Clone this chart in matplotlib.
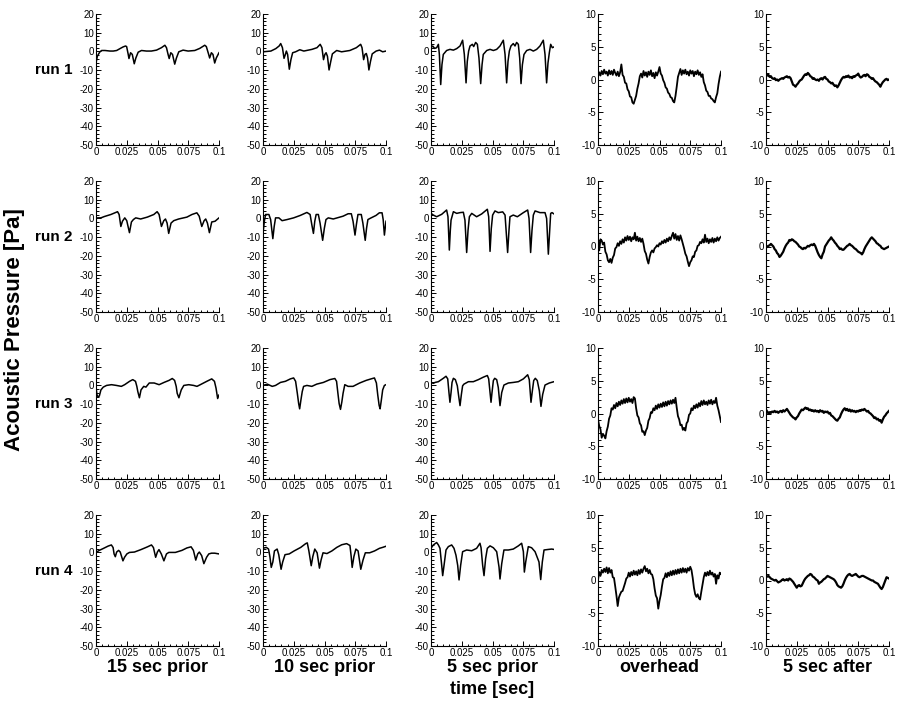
import numpy as np
import matplotlib
matplotlib.use('Agg')
import matplotlib.pyplot as plt
from matplotlib.ticker import MultipleLocator, FixedLocator, FixedFormatter

plt.rcParams['font.family'] = ['Liberation Sans', 'DejaVu Sans']
plt.rcParams['axes.unicode_minus'] = False

runs = ['run 1', 'run 2', 'run 3', 'run 4']
conditions = ['15 sec prior', '10 sec prior', '5 sec prior', 'overhead', '5 sec after']
x_ticks = [0, 0.025, 0.05, 0.075, 0.1]
x_tick_labels = ['0', '0.025', '0.05', '0.075', '0.1']
y_ticks_prior = [20, 10, 0, -10, -20, -30, -40, -50]
y_ticks_near = [10, 5, 0, -5, -10]

# ---- smooth panels: (time [ms], pressure [Pa]) ----
r1_15 = [(0,-6.2),(1.1,-2.6),(1.9,-1.6),(3.2,-0.2),(4.6,0.5),(7.3,0.5),(11.4,0.2),(14,0.2),(16.8,0.5),(19.5,1.5),
         (22,2.4),(24,2.9),(24.9,2.6),(26.2,-1.6),(26.8,-3.8),(28.1,-0.7),(29.5,-1.6),(31.1,-6.6),(32.4,-3.5),(34.3,-0.4),
         (37,0.5),(41,0.2),(45,0.2),(49.2,0.7),(53.2,2.0),(56,3.3),(57.3,2.0),(58.6,-1.6),(59.5,-3.8),(60.8,-0.7),
         (62.2,-1.6),(64,-6.8),(65.4,-3.5),(67.3,-0.2),(70.8,0.7),(74.9,0.2),(80.3,0.5),(84.3,1.6),(88.4,3.3),(89.7,2.6),
         (91.6,-1.6),(92.4,-3.5),(93.8,-0.7),(95.1,-1.6),(96.5,-6.2),(97.8,-3.5),(100,-0.7)]
r1_10 = [(0,-0.2),(6.4,0.2),(10.4,1.5),(13.1,2.9),(14.4,4.2),(15.8,2.0),(17.1,-3.7),(18.2,-1.6),(19,0.2),(20,-1.6),
         (21.4,-9.5),(22.7,-4.4),(24.1,-0.7),(26.5,-0.2),(29.9,0.9),(33.2,0.2),(39.8,1.1),(43.9,2.0),(46.5,3.8),(47.9,2.0),
         (49.2,-4.4),(50.3,-1.6),(51.3,-0.7),(52.4,-2.6),(53.7,-9.9),(55.1,-5.3),(56.4,-1.3),(59.9,0.5),(63.9,-0.2),(70.6,0.5),
         (75.9,2.0),(79.4,3.8),(80.5,2.0),(81.8,-4.4),(82.9,-1.6),(84,-1.1),(85,-3.5),(86.1,-9.9),(87.4,-5.3),(88.8,-1.3),
         (92,0.2),(94.7,0.7),(97.3,-0.2),(100,0.2)]
r1_5 = [(0,2.0),(1.4,2.9),(3,1.6),(4.6,2.0),(6,3.8),(6.8,-1.6),(7.9,-17.7),(8.9,-7.1),(10,-1.6),(12.7,0.5),
        (15.4,1.1),(18.2,0.7),(20.9,1.5),(23.6,2.9),(25.7,6.0),(27.1,-1.6),(28.5,-16.8),(29.5,-5.3),(30.6,0.2),(31.7,2.9),
        (33.6,3.8),(34.7,2.6),(36.3,4.8),(37.7,3.8),(39,-3.5),(40.4,-17.2),(41.5,-7.1),(42.5,-1.6),(45.3,0.5),(48,1.1),
        (50.7,0.5),(53.4,1.1),(56.1,2.9),(58.8,6.0),(60.2,-1.6),(61.5,-16.8),(62.6,-5.3),(63.7,0.2),(65,2.9),(66.9,4.2),
        (68.3,2.9),(69.6,4.8),(71,3.8),(72.1,-3.5),(73.2,-17.2),(74.3,-7.1),(75.6,-1.6),(77.8,0.5),(80.5,1.1),(83.2,0.2),
        (85.9,1.1),(88.6,2.9),(91.3,6.0),(92.7,-1.6),(94,-16.8),(95.1,-6.2),(96.2,-0.7),(97.3,3.8),(98.6,2.0),(100,2.4)]
r2_15 = [(0,-0.3),(1.3,0.3),(4,0.3),(6.7,1.0),(12.1,2.1),(16.1,3.2),(17.5,3.6),(18.8,2.1),(20.2,-4.3),(21.5,-1.5),
         (23.4,0.3),(25,-1.2),(27.2,-7.6),(28.8,-1.9),(30.4,-0.6),(32.3,0.3),(36.3,-0.3),(41.7,0.7),(47,2.1),(49.7,3.6),
         (51.3,2.1),(53.2,-4.3),(55.1,-1.2),(56.5,-0.3),(57.8,-2.5),(59.1,-8.0),(61,-2.5),(63.2,-1.2),(67.2,-0.3),(73.9,0.7),
         (78,2.1),(82,3.0),(83.9,1.2),(86,-4.3),(87.9,-1.2),(89.2,-0.3),(90.6,-2.5),(92.2,-7.6),(94.1,-1.9),(96.8,-1.5),(100,0.3)]
r2_10 = [(0,-8.0),(1.1,-1.5),(2.1,2.1),(4.8,2.1),(6.2,-0.6),(8,-10.8),(9.1,-4.3),(10.2,0.3),(12.9,0.3),(15.5,-1.2),
         (19.6,-0.6),(24.9,0.3),(30.3,1.6),(35.7,3.2),(38.3,2.1),(39.7,-3.4),(41,-8.0),(42.1,-1.5),(43.2,2.1),(45,2.1),
         (46.4,-2.5),(48.5,-11.7),(49.9,-5.2),(51.2,-0.6),(53.1,0.3),(57.1,-0.3),(65.1,1.2),(69.2,2.5),(71.8,2.5),(73.2,-1.5),
         (74.8,-8.9),(75.9,-3.4),(77.2,2.1),(79.9,2.1),(81.2,-2.5),(83.1,-11.7),(84.2,-5.2),(85.3,-0.6),(87.9,0.3),(91.9,1.6),
         (94.6,3.0),(96.8,3.0),(97.7,-0.6),(98.7,-8.9),(100,-1.5)]
r2_5 = [(0,2.7),(1.9,1.8),(4.6,0.9),(8.7,2.2),(12.7,4.5),(13.8,0.9),(14.9,-16.9),(15.7,-6.4),(16.3,-0.9),(18.2,3.6),
        (20.9,2.7),(23.6,3.1),(26.3,3.3),(27.6,-0.9),(29,-18.2),(30.1,-6.4),(31.2,0.9),(33.1,2.7),(37.1,0.9),(41.2,2.4),
        (45.8,4.9),(46.9,0.9),(48,-17.6),(49,-5.5),(50.1,1.8),(52,4.0),(54.7,3.1),(58.3,3.5),(60.2,1.8),(62.3,-18.2),
        (63.4,-6.4),(64.2,0.9),(66.9,1.8),(70.2,0.9),(75.1,3.1),(78.6,4.5),(79.7,0.0),(81,-18.2),(82.1,-6.4),(83.2,1.8),
        (84.6,4.0),(88.6,3.1),(92.7,3.1),(94,0.0),(95.4,-19.1),(96.5,-6.4),(97.3,2.7),(98.4,3.1),(100,2.4)]
r3_15 = [(0,-0.9),(0.8,-5.1),(1.6,-6.0),(2.7,-5.7),(4,-2.4),(5.9,-0.9),(8.6,0.0),(12.6,0.4),(16.6,0.0),(20.6,-0.5),
         (23.3,0.4),(27.3,2.2),(29.9,3.1),(32.1,2.2),(33.2,-0.5),(34,-3.3),(35.3,-6.6),(36.6,-2.4),(38.8,-0.5),(40.6,-0.9),
         (43.3,1.3),(47.3,1.3),(51.3,0.4),(55.3,1.6),(59.4,2.7),(62,3.7),(63.9,2.7),(65.2,-0.5),(66,-4.2),(67.4,-6.6),
         (69.3,-2.4),(71.4,0.0),(75.4,0.4),(79.4,0.0),(82.1,-0.5),(84.8,0.4),(90.1,2.2),(94.1,3.5),(96.3,2.2),(97.6,-1.5),
         (98.9,-7.0),(100,-5.1)]
r3_10 = [(0,0.0),(3.5,0.7),(7.5,-0.5),(10.2,0.0),(14.2,1.6),(18.2,2.2),(22.3,3.5),(24.9,4.0),(26.5,2.2),(27.9,-4.2),
         (29,-9.7),(29.8,-12.5),(30.8,-7.9),(31.9,-3.3),(33,-0.5),(35.7,0.0),(39.7,-0.5),(43.7,0.7),(49.1,1.6),(54.4,3.1),
         (58.4,3.7),(59.8,2.2),(60.9,-4.2),(61.9,-9.7),(63,-12.8),(64.1,-8.8),(65.1,-4.2),(66.5,0.4),(69.2,-0.5),(73.2,-0.5),
         (78.6,1.3),(83.9,2.7),(87.9,3.5),(90.6,4.0),(92.2,1.3),(93.3,-5.1),(94.4,-10.6),(95.2,-12.5),(96.2,-7.9),(97.3,-2.4),
         (98.7,0.0),(100,0.4)]
r3_5 = [(0,1.6),(1.9,1.1),(3.3,1.6),(6,2.0),(10,3.8),(12.2,4.9),(13.6,3.5),(14.6,-3.8),(15.4,-9.0),(16.3,-3.8),
        (17.1,1.6),(18.2,3.8),(19.8,3.1),(21.4,-0.2),(22.5,-5.7),(23.6,-10.8),(24.7,-4.8),(25.7,-0.2),(26.8,0.7),(30.4,2.0),
        (34.4,2.0),(38.5,3.1),(42.5,4.4),(45.8,5.3),(46.9,3.5),(48,-3.8),(48.8,-9.0),(49.6,-3.8),(50.7,2.6),(51.8,3.8),
        (53.4,3.1),(54.7,-1.1),(56.1,-10.8),(57.5,-3.8),(59.3,0.2),(62.9,1.3),(66.9,1.6),(71,2.0),(75.1,3.5),(78.6,5.7),
        (79.9,3.1),(81.3,-9.0),(82.4,-2.9),(83.5,2.6),(84.8,3.8),(86.4,2.6),(88.1,-2.9),(89.4,-11.2),(90.8,-4.8),(92.7,0.2),
        (96.2,1.3),(100,2.0)]
r4_15 = [(0,0.0),(2.7,1.1),(5.9,2.1),(9.9,3.4),(12.5,4.0),(13.9,2.6),(14.7,-0.8),(15.7,-2.3),(16.8,0.2),(18.4,1.1),
         (19.7,0.2),(21.9,-4.5),(23.2,-2.6),(25.1,-0.8),(27.2,0.0),(31.2,0.2),(36.5,1.5),(41.9,3.0),(45.1,4.0),(46.7,2.6),
         (48.5,-2.6),(49.9,0.2),(51.2,1.5),(53.1,-0.8),(55.2,-4.5),(57.3,-0.8),(59.2,0.0),(64.5,0.0),(69.9,1.1),(73.9,2.4),
         (77.3,3.0),(79.2,1.1),(81.1,-4.1),(82.7,-0.8),(84,0.2),(85.9,-1.7),(87.7,-6.0),(89.9,-2.6),(91.7,-0.8),(93.9,-0.4),
         (96.5,-0.4),(100,-0.8)]
r4_10 = [(0,2.2),(2.7,2.7),(4.5,1.8),(5.6,-2.2),(6.7,-8.0),(8,-5.1),(9.3,0.8),(11.5,1.8),(12.8,-1.2),(14.7,-9.0),
         (16,-5.1),(17.9,-1.2),(21.3,-0.8),(25.3,0.8),(30.7,2.7),(34.7,4.7),(36,5.1),(37.3,0.8),(39.2,-7.1),(40.5,-2.2),
         (42.1,1.8),(44,-0.2),(45.9,-8.4),(47.2,-4.1),(48.8,-0.2),(52,-0.6),(56,0.8),(60,2.7),(64,4.1),(68,4.7),
         (70.7,3.7),(71.7,-2.2),(72.5,-8.0),(73.9,-2.2),(75.5,1.8),(77.3,0.8),(79.5,-9.0),(81.3,-4.1),(83.2,-0.2),(86.7,-0.2),
         (90.7,0.8),(94.7,2.2),(97.3,2.7),(100,3.3)]
r4_5 = [(0,2.2),(1.9,4.0),(4.6,5.3),(6,4.0),(7.3,2.2),(8.7,-6.9),(9.5,-12.4),(10.6,-6.9),(12.2,1.3),(14.1,3.1),
        (16.8,4.0),(18.7,2.2),(20.3,-1.5),(21.7,-6.9),(22.8,-14.7),(24.1,-6.9),(25.7,0.4),(29,1.3),(33.1,0.9),(37.1,2.2),
        (39.8,4.9),(40.7,2.5),(42,-6.9),(43.1,-12.4),(44.4,-3.3),(45.8,2.2),(48,3.5),(50.7,2.5),(53.4,0.4),(55.3,-7.8),
        (56.1,-14.2),(57.5,-6.0),(59.3,1.3),(62.9,1.3),(66.9,1.8),(71,3.5),(73.7,4.9),(75.1,0.4),(75.9,-10.5),(77,-5.1),
        (79.1,3.1),(81.8,2.5),(84.6,0.4),(87.8,-5.1),(89.2,-14.5),(90.5,-5.1),(91.9,1.3),(95.4,1.6),(98.1,1.8),(100,1.6)]

# ---- noisy panels: one value per millisecond, 0 ... 100 ms ----
r1_over = [0.4, 1.1, 0.6, 1.3, 0.8, 1.5, 0.9, 1.2, 0.6, 1.4,
           0.8, 1.3, 0.7, 1.5, 1.0, 0.6, 1.2, 0.5, 1.1, 2.3,
           0.7, 0.4, -0.5, -0.6, -1.5, -1.8, -2.6, -2.7, -3.5, -3.7,
           -3.1, -2.5, -1.4, -0.6, 0.5, 0.9, 0.3, 1.3, 0.6, 1.1,
           0.4, 1.2, 0.7, 1.4, 0.5, 1.0, 0.2, 1.1, 0.6, 1.2,
           1.9, 0.9, 0.6, -0.1, -0.5, -1.2, -1.4, -2.0, -2.2, -2.7,
           -2.8, -3.3, -3.5, -2.5, -1.1, 0.4, 1.0, 1.6, 0.7, 1.4,
           0.9, 1.5, 0.8, 1.2, 0.6, 1.4, 0.9, 1.3, 0.5, 1.2,
           0.8, 1.4, 0.7, 1.1, 0.4, 0.8, -0.4, -0.9, -1.7, -1.9,
           -2.5, -2.5, -2.9, -3.0, -3.3, -3.5, -2.7, -2.1, -0.7, 0.4,
           1.2]
r2_over = [1.3, -0.6, 1.1, 0.9, 0.3, 0.6, -0.8, -1.2, -2.1, -2.4,
           -1.9, -2.5, -1.7, -1.3, -0.3, -0.1, 0.5, 0.1, 0.8, 0.4,
           1.1, 0.6, 1.4, 0.9, 1.6, 1.0, 1.5, 0.8, 1.4, 1.1,
           2.1, 0.9, 1.5, 0.8, 1.3, 0.7, 1.2, 0.4, -0.7, -1.1,
           -2.0, -2.6, -1.6, -0.9, -0.6, -0.9, -0.3, -0.1, 0.2, 0.0,
           0.5, 0.3, 0.8, 0.5, 1.0, 0.6, 1.2, 0.8, 1.4, 1.0,
           1.6, 2.1, 1.2, 1.9, 1.0, 1.6, 0.9, 1.7, 1.1, 0.4,
           -0.3, -1.1, -1.5, -2.3, -3.0, -2.4, -2.1, -1.5, -1.6, -0.8,
           -0.6, 0.1, 0.2, 0.7, 0.5, 1.1, 0.6, 1.8, 0.7, 1.2,
           0.5, 1.1, 0.7, 1.3, 0.6, 1.2, 0.8, 1.4, 0.9, 1.3,
           1.5]
r3_over = [-0.9, -1.9, -2.4, -3.7, -3.1, -3.4, -3.8, -2.7, -2.0, -0.8,
           -0.3, 0.8, 0.6, 1.3, 0.8, 1.6, 1.1, 1.8, 1.3, 2.0,
           1.5, 2.2, 1.6, 2.3, 1.7, 2.4, 1.8, 2.2, 1.6, 2.5,
           2.3, 0.8, -0.3, -0.6, -1.5, -1.8, -2.8, -2.7, -3.3, -2.6,
           -2.2, -1.1, -0.7, 0.2, 0.1, 0.8, 0.5, 1.2, 0.7, 1.4,
           0.9, 1.5, 1.0, 1.7, 1.1, 1.8, 1.2, 1.9, 1.4, 2.0,
           1.5, 2.1, 1.6, 2.4, 0.9, -0.4, -0.9, -1.8, -1.7, -2.5,
           -2.2, -2.6, -1.5, -1.2, -0.2, 0.0, 0.8, 0.5, 1.2, 0.8,
           1.4, 0.9, 1.6, 1.1, 1.9, 1.3, 2.0, 1.4, 1.8, 1.3,
           2.0, 1.5, 2.1, 1.4, 1.9, 1.6, 2.4, 1.2, 0.5, -0.4,
           -1.3]
r4_over = [0.1, 1.3, 0.7, 1.6, 1.2, 1.8, 1.3, 2.0, 1.1, 1.9,
           1.2, 1.6, 0.5, 0.4, -0.9, -2.3, -3.9, -2.6, -2.1, -1.7,
           -1.6, -1.0, -0.4, 0.3, 0.5, 1.2, 0.6, 1.3, 0.8, 1.5,
           0.9, 1.4, 0.8, 1.6, 1.0, 1.7, 1.2, 1.8, 2.2, 1.4,
           1.8, 1.1, 1.6, 1.0, 0.9, 0.2, -1.2, -2.3, -2.7, -4.3,
           -3.1, -2.2, -0.9, 0.2, 0.4, 1.1, 0.5, 1.2, 0.7, 1.4,
           0.8, 1.5, 0.9, 1.6, 1.0, 1.7, 1.1, 1.8, 1.2, 1.9,
           1.3, 1.8, 1.2, 1.9, 1.5, 2.1, 1.6, 0.4, -1.1, -2.1,
           -2.5, -2.1, -2.7, -2.9, -1.7, -0.6, 0.5, 1.2, 0.7, 1.3,
           0.8, 1.5, 0.9, 1.2, 0.6, 1.0, -0.5, 0.8, 0.3, 1.2,
           1.0]
r1_after = [0.8, 0.6, 0.7, 0.4, 0.5, 0.2, 0.1, 0.2, -0.1, 0.0,
            -0.2, 0.0, 0.1, 0.2, 0.1, 0.3, 0.4, 0.5, 0.3, 0.4,
            0.2, -0.3, -0.8, -0.9, -1.1, -0.8, -0.6, -0.3, -0.1, 0.0,
            0.3, 0.6, 0.8, 0.7, 1.0, 0.8, 0.5, 0.4, 0.1, 0.2,
            0.0, -0.1, 0.0, -0.2, 0.1, 0.2, 0.0, 0.3, 0.4, 0.1,
            0.0, -0.3, -0.4, -0.6, -0.5, -0.8, -1.0, -0.9, -1.2, -0.9,
            -0.5, -0.1, 0.2, 0.4, 0.3, 0.5, 0.4, 0.6, 0.3, 0.4,
            0.2, 0.5, 0.4, 0.6, 0.7, 0.9, 0.5, 0.3, 0.4, 0.6,
            0.7, 0.5, 0.8, 0.7, 0.4, 0.3, 0.1, 0.2, -0.1, -0.3,
            -0.4, -0.6, -0.8, -1.1, -0.7, -0.4, -0.2, 0.0, 0.1, -0.1,
            0.0]
r2_after = [-0.2, 0.0, 0.1, 0.2, 0.4, 0.2, 0.0, -0.4, -0.6, -1.0,
            -1.2, -1.6, -1.4, -1.1, -0.8, -0.3, 0.1, 0.4, 0.6, 1.0,
            0.9, 1.1, 1.0, 0.8, 0.7, 0.5, 0.3, 0.0, -0.1, -0.3,
            -0.4, -0.2, -0.3, -0.1, 0.1, 0.0, 0.2, 0.3, 0.2, 0.4,
            0.1, -0.4, -0.9, -1.3, -1.6, -1.8, -1.2, -0.8, 0.0, 0.3,
            0.6, 0.9, 1.1, 1.4, 1.1, 0.9, 0.6, 0.4, 0.1, -0.1,
            -0.4, -0.3, -0.5, -0.5, -0.3, -0.1, 0.1, 0.2, 0.4, 0.2,
            0.1, -0.1, -0.3, -0.4, -0.6, -0.8, -0.9, -1.0, -1.2, -0.9,
            -0.4, 0.0, 0.3, 0.6, 0.9, 1.2, 1.4, 1.2, 1.0, 0.8,
            0.5, 0.4, 0.2, 0.1, -0.2, -0.3, -0.4, -0.3, -0.2, -0.1,
            0.0]
r3_after = [0.6, 0.3, 0.0, 0.2, 0.1, 0.3, 0.2, 0.4, 0.2, 0.3,
            0.1, 0.3, 0.4, 0.2, 0.5, 0.3, 0.5, 0.7, 0.4, 0.1,
            -0.2, -0.4, -0.6, -0.7, -0.9, -0.6, -0.4, 0.0, 0.3, 0.6,
            0.5, 0.7, 0.9, 0.7, 0.8, 0.5, 0.6, 0.4, 0.5, 0.3,
            0.5, 0.3, 0.4, 0.2, 0.5, 0.3, 0.4, 0.1, 0.3, 0.2,
            0.3, 0.0, 0.1, -0.3, -0.4, -0.6, -0.8, -1.0, -1.1, -0.8,
            -0.6, -0.1, 0.3, 0.6, 0.8, 0.5, 0.7, 0.4, 0.6, 0.3,
            0.5, 0.3, 0.4, 0.2, 0.4, 0.3, 0.5, 0.4, 0.6, 0.5,
            0.7, 0.5, 0.3, 0.4, 0.1, 0.0, -0.2, -0.4, -0.7, -0.6,
            -0.9, -0.8, -1.1, -1.0, -1.4, -0.9, -0.5, -0.3, 0.0, 0.2,
            0.4]
r4_after = [0.5, 0.6, 0.7, 0.5, 0.3, 0.2, 0.1, 0.0, 0.1, -0.1,
            -0.3, -0.2, -0.1, 0.1, 0.2, 0.0, 0.1, 0.2, 0.0, 0.3,
            0.2, 0.0, -0.2, -0.5, -0.8, -1.1, -0.8, -0.7, -0.9, -0.8,
            -0.4, 0.0, 0.3, 0.5, 0.7, 0.8, 1.0, 0.9, 0.6, 0.5,
            0.3, 0.1, 0.0, -0.5, -0.3, -0.2, 0.0, 0.2, 0.3, 0.5,
            0.7, 0.6, 0.5, 0.4, 0.3, 0.2, 0.0, -0.3, -0.7, -0.9,
            -1.0, -1.1, -0.9, -0.5, 0.0, 0.4, 0.7, 0.9, 1.0, 0.8,
            0.7, 0.8, 0.9, 1.0, 0.8, 0.6, 0.5, 0.6, 0.7, 0.7,
            0.6, 0.5, 0.4, 0.3, 0.2, 0.1, 0.0, 0.0, -0.2, -0.3,
            -0.4, -0.5, -0.8, -1.1, -1.3, -1.0, -0.5, 0.0, 0.5, 0.4,
            0.3]
sample_ms = np.arange(101)

smooth = [[r1_15, r1_10, r1_5], [r2_15, r2_10, r2_5], [r3_15, r3_10, r3_5], [r4_15, r4_10, r4_5]]
noisy = [[r1_over, r1_after], [r2_over, r2_after], [r3_over, r3_after], [r4_over, r4_after]]

W, H = 897, 706
fig = plt.figure(figsize=(W / 100, H / 100), dpi=100)
col_left = [96, 263, 431, 598, 766]
row_top = [14, 181, 348, 515]
ax_w, ax_h = 123, 131

for r in range(4):
    for c in range(5):
        ax = fig.add_axes([col_left[c] / W, 1 - (row_top[r] + ax_h) / H, ax_w / W, ax_h / H])
        if c < 3:
            t, p = zip(*smooth[r][c])
            ax.plot(np.array(t) / 1000.0, p, color='black', lw=1.1)
            ax.set_ylim(-50, 20)
            ax.yaxis.set_major_locator(FixedLocator(y_ticks_prior))
            ax.yaxis.set_minor_locator(MultipleLocator(2))
            ax.set_yticklabels([str(v) for v in y_ticks_prior])
        else:
            vals = noisy[r][c - 3]
            ax.plot(sample_ms / 1000.0, vals, color='black', lw=1.3 if c == 3 else 1.6)
            ax.set_ylim(-10, 10)
            ax.yaxis.set_major_locator(FixedLocator(y_ticks_near))
            ax.yaxis.set_minor_locator(MultipleLocator(1))
            ax.set_yticklabels([str(v) for v in y_ticks_near])
        ax.set_xlim(0, 0.1)
        ax.xaxis.set_major_locator(FixedLocator(x_ticks))
        ax.xaxis.set_major_formatter(FixedFormatter(x_tick_labels))
        ax.xaxis.set_minor_locator(MultipleLocator(0.005))
        for s in ['top', 'right']:
            ax.spines[s].set_visible(False)
        for s in ['left', 'bottom']:
            ax.spines[s].set_linewidth(0.8)
        ax.tick_params(which='both', direction='in', width=0.7, labelsize=7, colors='black')
        ax.tick_params(which='major', length=3.5)
        ax.tick_params(which='minor', length=1.8)
        ax.tick_params(axis='y', pad=1.5)
        ax.tick_params(axis='x', pad=1.5)
        if c == 0:
            ax.text(-0.195, -10, runs[r], transform=ax.get_yaxis_transform(),
                    ha='right', va='center', fontsize=11, fontweight='bold')
        if r == 3:
            fig.text((col_left[c] + ax_w / 2) / W, 1 - 668 / H, conditions[c],
                     ha='center', va='center', fontsize=13, fontweight='bold')

fig.text((431 + ax_w / 2) / W, 1 - 690 / H, 'time [sec]', ha='center', va='center',
         fontsize=13, fontweight='bold')
fig.text(15 / W, 1 - 330 / H, 'Acoustic Pressure [Pa]', rotation=90, ha='center', va='center',
         fontsize=16, fontweight='bold')

fig.savefig('out.png', dpi=100)
